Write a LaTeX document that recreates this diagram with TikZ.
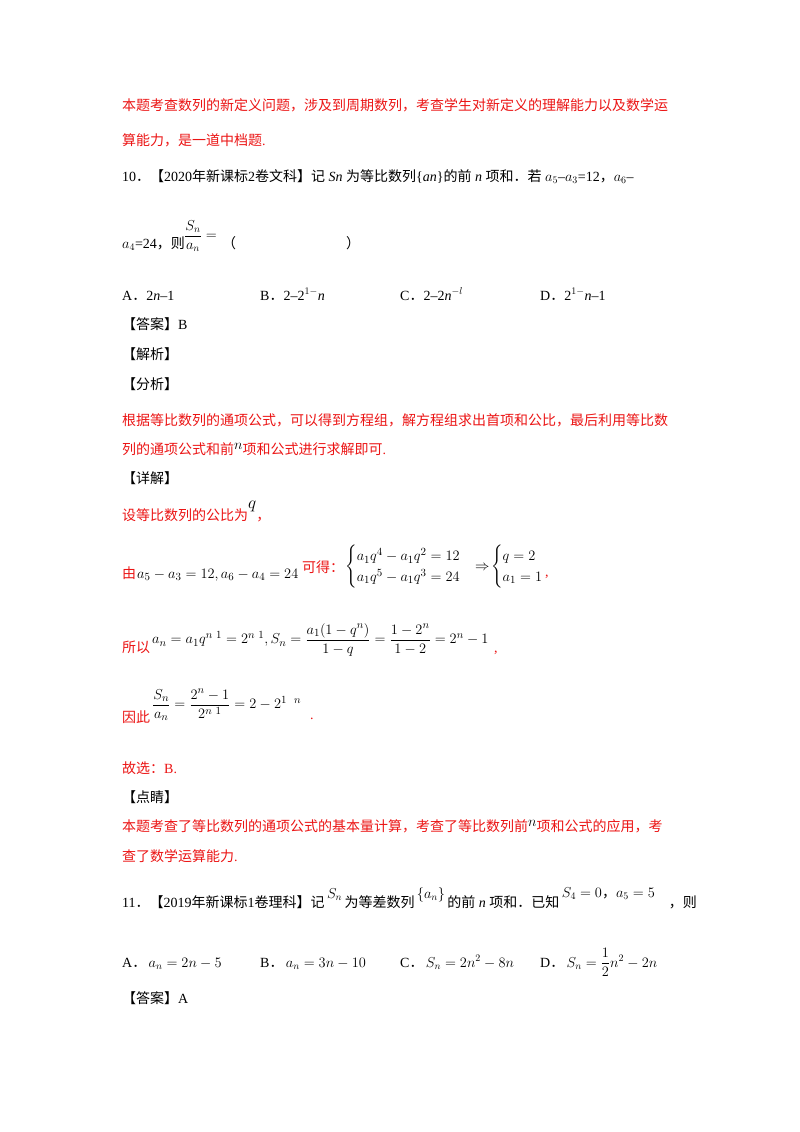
\documentclass[tikz,border=0pt]{standalone}
\usepackage{amsmath}
\usepackage{fontspec}
\setmainfont{Liberation Serif}
\newfontfamily\cjk{Noto Sans CJK SC}
\newcommand\zh[1]{{\cjk #1}}
\definecolor{rd}{RGB}{235,20,20}
\begin{document}
\begin{tikzpicture}[x=1pt,y=-1pt,
  t/.style={anchor=base west,inner sep=0pt,font=\fontsize{14}{16}\selectfont},
  rt/.style={t,text=rd},
  m/.style={anchor=west,inner sep=0pt,font=\fontsize{15}{17}\selectfont}]
\useasboundingbox (0,0) rectangle (800,1132);
\node[rt] (l1) at (122,110) {\zh{本题考查数列的新定义问题，涉及到周期数列，考查学生对新定义的理解能力以及数学运}};
\node[rt] (l2) at (122,145) {\zh{算能力，是一道中档题}.};
\node[t] (q10) at (122,181) {10\zh{．【}2020\zh{年新课标}2\zh{卷文科】记} \textit{Sn} \zh{为等比数列}\{\textit{an}\}\zh{的前} \textit{n} \zh{项和．若} $a_5$–$a_3$=12\zh{，}$a_6$–};
\node[t] (q10b) at (122,248) {$a_4$=24\zh{，则}};
\node[m,font=\fontsize{14}{16}\selectfont] (fr) at (184,236) {$\dfrac{S_n}{a_n}=$};
\node[t] (par) at (222,248) {\zh{（}\hspace{110pt}\zh{）}};
\node[t] (oA) at (122,300) {A\zh{．}2\textit{n}–1};
\node[t] (oB) at (260,300) {B\zh{．}2–2$^{1-}$\textit{n}};
\node[t] (oC) at (400,300) {C\zh{．}2–2\textit{n}$^{-l}$};
\node[t] (oD) at (540,300) {D\zh{．}2$^{1-}$\textit{n}–1};
\node[t] (ans) at (122,329) {\zh{【答案】}B};
\node[t] (jx) at (122,359) {\zh{【解析】}};
\node[t] (fx) at (122,389) {\zh{【分析】}};
\node[rt] (p1) at (122,425) {\zh{根据等比数列的通项公式，可以得到方程组，解方程组求出首项和公比，最后利用等比数}};
\node[rt] (p2) at (122,454) {\zh{列的通项公式和前}\raisebox{5pt}{\textcolor{black}{$n$}}\zh{项和公式进行求解即可}.};
\node[t] (xj) at (122,483) {\zh{【详解】}};
\node[rt] (s1) at (122,520) {\zh{设等比数列的公比为}\raisebox{12pt}{\textcolor{black}{\fontsize{17}{19}\selectfont$q$}}\zh{，}};
\node[rt] (s2) at (122,578) {\zh{由}};
\node[m] (s2m) at (137,575) {$a_5-a_3=12,a_6-a_4=24$};
\node[rt] (s2b) at (302,572) {\zh{可得：}};
\node[m] (sys) at (345,567) {$\begin{cases}a_1q^4-a_1q^2=12\\ a_1q^5-a_1q^3=24\end{cases}\!\!\Rightarrow\!\begin{cases}q=2\\ a_1=1\end{cases}$};
\node[rt] (c1) at (545,576) {,};
\node[rt] (s3) at (122,652) {\zh{所以}};
\node[m] (s3m) at (152,640) {$a_n=a_1q^{n\ 1}=2^{n\ 1},S_n=\dfrac{a_1(1-q^n)}{1-q}=\dfrac{1-2^n}{1-2}=2^n-1$};
\node[rt] (c2) at (494,652) {,};
\node[rt] (s4) at (122,722) {\zh{因此}};
\node[m] (s4m) at (152,705) {$\dfrac{S_n}{a_n}=\dfrac{2^n-1}{2^{n\ 1}}=2-2^{1\ \ n}$};
\node[rt] (c3) at (310,719) {.};
\node[rt] (gx) at (122,773) {\zh{故选：}B.};
\node[t] (dj) at (122,802) {\zh{【点睛】}};
\node[rt] (d1) at (122,831) {\zh{本题考查了等比数列的通项公式的基本量计算，考查了等比数列前}\raisebox{5pt}{\textcolor{black}{$n$}}\zh{项和公式的应用，考}};
\node[rt] (d2) at (122,861) {\zh{查了数学运算能力}.};
\node[t] (q11) at (122,907) {11\zh{．【}2019\zh{年新课标}1\zh{卷理科】记}\,\raisebox{9pt}{$S_n$}\,\zh{为等差数列}\,\raisebox{9pt}{$\{a_n\}$}\,\zh{的前} \textit{n} \zh{项和．已知}\,\raisebox{10pt}{$S_4=0$\zh{，}$a_5=5$}\quad\zh{，则}};
\node[t] (pA) at (122,967) {A\zh{．}\,$a_n=2n-5$};
\node[t] (pB) at (260,967) {B\zh{．}\,$a_n=3n-10$};
\node[t] (pC) at (400,967) {C\zh{．}\,$S_n=2n^2-8n$};
\node[t] (pD) at (540,967) {D\zh{．}\,$S_n=\dfrac12n^2-2n$};
\node[t] (ans2) at (122,1003) {\zh{【答案】}A};
\end{tikzpicture}
\end{document}
